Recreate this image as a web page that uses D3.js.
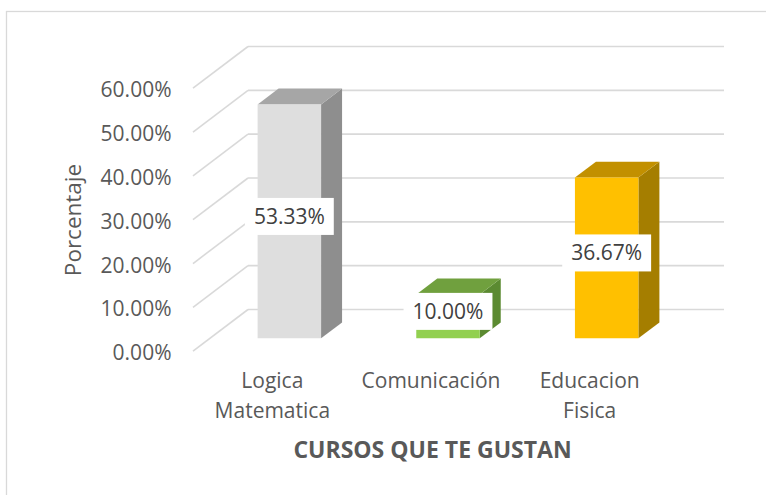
<!DOCTYPE html>
<html><head><meta charset="utf-8">
<script src="https://cdn.jsdelivr.net/npm/d3@7"></script>
<style>body{margin:0;background:#fff}svg{display:block}</style>
</head><body>
<svg id="c" width="766" height="495"></svg>
<script>
// ---- data ----
const categories = ["Logica Matematica", "Comunicación", "Educacion Fisica"];
const categoryLines = [["Logica", "Matematica"], ["Comunicación"], ["Educacion", "Fisica"]];
const values = [53.33, 10.00, 36.67];
const valueLabels = ["53.33%", "10.00%", "36.67%"];
const tickValues = [0, 10, 20, 30, 40, 50, 60];
const yTitle = "Porcentaje";
const xTitle = "CURSOS QUE TE GUSTAN";

// ---- styles ----
const palette = [
  {front: "#dedede", top: "#a6a6a6", side: "#8e8e8e"},
  {front: "#92d050", top: "#70a03e", side: "#5b8a31"},
  {front: "#ffc000", top: "#c29000", side: "#a57e00"}
];
const FONT = "'Open Sans', sans-serif";

// ---- geometry ----
const wallL = 248, wallR = 724, wallB = 309.5, wallT = 46.5;
const DEPTH = 55, K = 0.758;
const D0 = 17, D1 = 38;

const svg = d3.select("#c");
svg.append("rect").attr("x", 6.5).attr("y", 11.5).attr("width", 800).attr("height", 600)
  .attr("fill", "#fff").attr("stroke", "#d9d9d9").attr("stroke-width", 1.3);

const x = d3.scaleBand().domain(categories).range([wallL, wallR]).paddingInner(0.6).paddingOuter(0.3);
const y = d3.scaleLinear().domain([0, 60]).range([wallB, wallT]);
const proj = (xb, v, d) => [xb - d, y(v) + d * K];
const pts = a => a.map(p => p.join(",")).join(" ");

// gridlines
const grid = svg.append("g").attr("stroke", "#d9d9d9").attr("stroke-width", 1.6).attr("fill", "none");
tickValues.forEach(t => {
  grid.append("line").attr("x1", wallL).attr("x2", wallR).attr("y1", y(t)).attr("y2", y(t));
  const a = proj(wallL, t, 0), b = proj(wallL, t, DEPTH);
  grid.append("line").attr("x1", a[0]).attr("y1", a[1]).attr("x2", b[0]).attr("y2", b[1]);
});

// bars
const bw = x.bandwidth();
categories.forEach((c, i) => {
  const x0 = x(c), x1 = x0 + bw, v = values[i], col = palette[i];
  const g = svg.append("g");
  g.append("polygon").attr("points", pts([proj(x1, 0, D1), proj(x1, 0, D0), proj(x1, v, D0), proj(x1, v, D1)])).attr("fill", col.side);
  g.append("polygon").attr("points", pts([proj(x0, v, D1), proj(x1, v, D1), proj(x1, v, D0), proj(x0, v, D0)])).attr("fill", col.top);
  g.append("polygon").attr("points", pts([proj(x0, 0, D1), proj(x1, 0, D1), proj(x1, v, D1), proj(x0, v, D1)])).attr("fill", col.front);
});

// data labels
categories.forEach((c, i) => {
  const v = values[i];
  const cx = x(c) + bw / 2 - D1;
  const cy = (y(v) + y(0)) / 2 + D1 * K - 5;
  const g = svg.append("g");
  const r = g.append("rect").attr("fill", "#fff");
  const t = g.append("text").attr("x", cx).attr("y", cy).attr("dy", "0.36em")
    .attr("text-anchor", "middle").attr("font-family", FONT).attr("font-size", 21)
    .attr("fill", "#404040").text(valueLabels[i]);
  const w = t.node().getComputedTextLength() + 18;
  r.attr("x", cx - w / 2).attr("y", cy - 18.5).attr("width", w).attr("height", 37);
});

// y axis (front edge)
const yFront = y.copy().range([wallB + DEPTH * K, wallT + DEPTH * K]);
const ya = svg.append("g").attr("transform", "translate(171.5,8.5)")
  .call(d3.axisLeft(yFront).tickValues(tickValues).tickSize(0).tickPadding(0).tickFormat(d => d.toFixed(2) + "%"));
ya.select(".domain").remove();
ya.selectAll("text").attr("dy", null).attr("font-family", FONT).attr("font-size", 21).attr("fill", "#595959");

// x axis (front edge)
const xFront = x.copy().range([wallL - DEPTH, wallR - DEPTH]);
const xa = svg.append("g").attr("transform", "translate(0,388.3)")
  .call(d3.axisBottom(xFront).tickSize(0).tickPadding(0));
xa.select(".domain").remove();
xa.selectAll(".tick text").each(function(d, i) {
  const t = d3.select(this).attr("y", 0).attr("dy", null).text(null)
    .attr("font-family", FONT).attr("font-size", 21).attr("fill", "#595959");
  categoryLines[categories.indexOf(d)].forEach((ln, j) => {
    t.append("tspan").attr("x", 0).attr("y", j * 30).text(ln);
  });
});

// titles
svg.append("text").attr("transform", "translate(81,220) rotate(-90)").attr("text-anchor", "middle")
  .attr("font-family", FONT).attr("font-size", 22.5).attr("fill", "#595959").text(yTitle);
svg.append("text").attr("x", 432.5).attr("y", 458.3).attr("text-anchor", "middle")
  .attr("font-family", FONT).attr("font-size", 23).attr("font-weight", "bold").attr("fill", "#595959").text(xTitle);
</script>
</body></html>
